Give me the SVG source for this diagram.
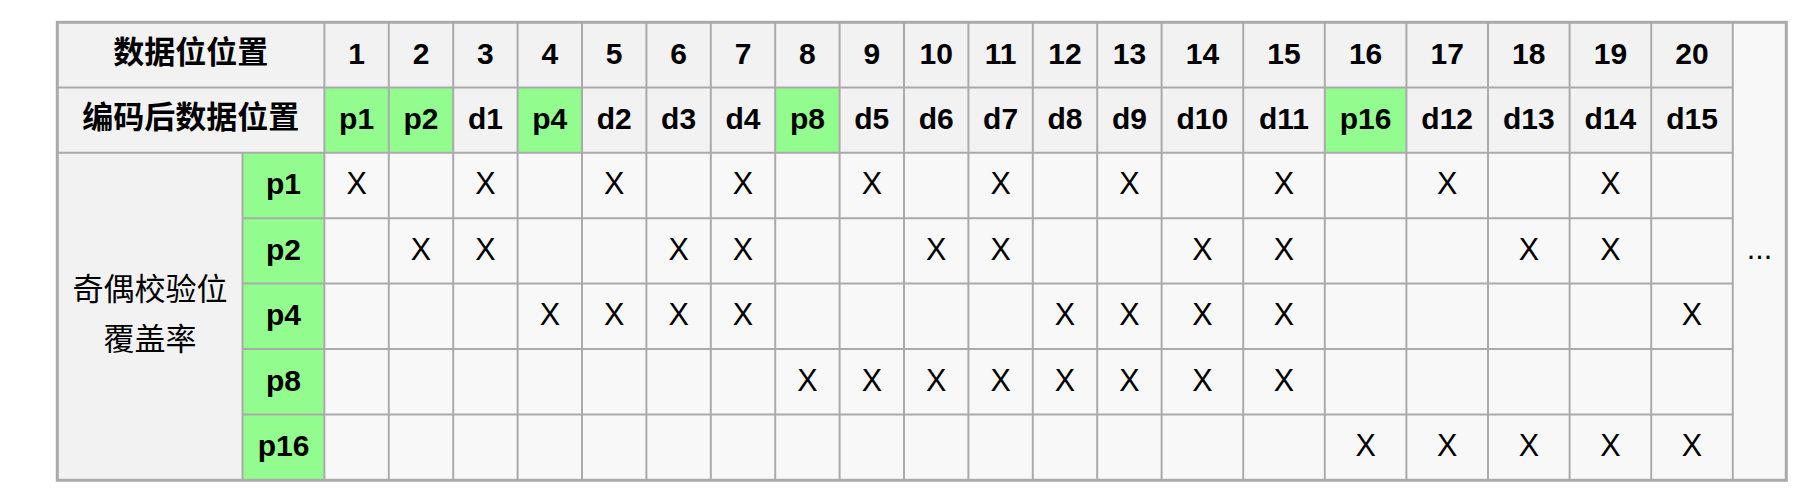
<svg xmlns="http://www.w3.org/2000/svg" width="1820" height="502" viewBox="0 0 1820 502">
<style>
.hd{fill:#f2f2f2}.dt{fill:#f8f8f8}.gr{fill:#92fd8e}
.grid line{stroke:#aaaaaa;stroke-width:2}
text{font-family:"Liberation Sans",Arial,"Noto Sans CJK SC",sans-serif;fill:#000;text-anchor:middle}
.b{font-size:30px;font-weight:bold}
.x{font-size:30.5px}
.c{font-family:"Noto Sans CJK SC","Liberation Sans",sans-serif;font-size:31px;font-weight:bold}
.cn{font-family:"Noto Sans CJK SC","Liberation Sans",sans-serif;font-size:31px}
</style>
<rect width="1820" height="502" fill="#ffffff"/>
<g id="backgrounds">
<rect class="hd" x="57" y="22" width="1675.8" height="130.8"/>
<rect class="hd" x="57" y="152.8" width="185.5" height="327"/>
<rect class="dt" x="324.4" y="152.8" width="1408.4" height="327"/>
<rect class="dt" x="1732.8" y="22" width="53.2" height="457.8"/>
<rect class="gr" x="242.5" y="152.8" width="81.9" height="327"/>
<rect class="gr" x="324.4" y="87.4" width="64.4" height="65.4"/>
<rect class="gr" x="388.8" y="87.4" width="64.4" height="65.4"/>
<rect class="gr" x="517.6" y="87.4" width="64.4" height="65.4"/>
<rect class="gr" x="775.2" y="87.4" width="64.4" height="65.4"/>
<rect class="gr" x="1324.8" y="87.4" width="81.6" height="65.4"/>
</g>
<g id="grid" class="grid">
<line x1="57" y1="87.4" x2="1732.8" y2="87.4"/>
<line x1="57" y1="152.8" x2="1732.8" y2="152.8"/>
<line x1="242.5" y1="218.2" x2="1732.8" y2="218.2"/>
<line x1="242.5" y1="283.6" x2="1732.8" y2="283.6"/>
<line x1="242.5" y1="349" x2="1732.8" y2="349"/>
<line x1="242.5" y1="414.4" x2="1732.8" y2="414.4"/>
<line x1="242.5" y1="152.8" x2="242.5" y2="479.8"/>
<line x1="324.4" y1="22" x2="324.4" y2="479.8"/>
<line x1="388.8" y1="22" x2="388.8" y2="479.8"/>
<line x1="453.2" y1="22" x2="453.2" y2="479.8"/>
<line x1="517.6" y1="22" x2="517.6" y2="479.8"/>
<line x1="582" y1="22" x2="582" y2="479.8"/>
<line x1="646.4" y1="22" x2="646.4" y2="479.8"/>
<line x1="710.8" y1="22" x2="710.8" y2="479.8"/>
<line x1="775.2" y1="22" x2="775.2" y2="479.8"/>
<line x1="839.6" y1="22" x2="839.6" y2="479.8"/>
<line x1="904" y1="22" x2="904" y2="479.8"/>
<line x1="968.4" y1="22" x2="968.4" y2="479.8"/>
<line x1="1032.8" y1="22" x2="1032.8" y2="479.8"/>
<line x1="1097.2" y1="22" x2="1097.2" y2="479.8"/>
<line x1="1161.6" y1="22" x2="1161.6" y2="479.8"/>
<line x1="1243.2" y1="22" x2="1243.2" y2="479.8"/>
<line x1="1324.8" y1="22" x2="1324.8" y2="479.8"/>
<line x1="1406.4" y1="22" x2="1406.4" y2="479.8"/>
<line x1="1488" y1="22" x2="1488" y2="479.8"/>
<line x1="1569.6" y1="22" x2="1569.6" y2="479.8"/>
<line x1="1651.2" y1="22" x2="1651.2" y2="479.8"/>
<line x1="1732.8" y1="22" x2="1732.8" y2="479.8"/>
</g>
<rect id="border" x="57.3" y="22.3" width="1729" height="458" fill="none" stroke="#aaaaaa" stroke-width="3"/>
<g id="row-position">
<text class="c" x="190.7" y="62.5">数据位位置</text>
<text class="b" x="356.6" y="63.5">1</text>
<text class="b" x="421" y="63.5">2</text>
<text class="b" x="485.4" y="63.5">3</text>
<text class="b" x="549.8" y="63.5">4</text>
<text class="b" x="614.2" y="63.5">5</text>
<text class="b" x="678.6" y="63.5">6</text>
<text class="b" x="743" y="63.5">7</text>
<text class="b" x="807.4" y="63.5">8</text>
<text class="b" x="871.8" y="63.5">9</text>
<text class="b" x="936.2" y="63.5">10</text>
<text class="b" x="1000.6" y="63.5">11</text>
<text class="b" x="1065" y="63.5">12</text>
<text class="b" x="1129.4" y="63.5">13</text>
<text class="b" x="1202.4" y="63.5">14</text>
<text class="b" x="1284" y="63.5">15</text>
<text class="b" x="1365.6" y="63.5">16</text>
<text class="b" x="1447.2" y="63.5">17</text>
<text class="b" x="1528.8" y="63.5">18</text>
<text class="b" x="1610.4" y="63.5">19</text>
<text class="b" x="1692" y="63.5">20</text>
</g>
<g id="row-encoded">
<text class="c" x="190.7" y="128">编码后数据位置</text>
<text class="b" x="356.6" y="129">p1</text>
<text class="b" x="421" y="129">p2</text>
<text class="b" x="485.4" y="129">d1</text>
<text class="b" x="549.8" y="129">p4</text>
<text class="b" x="614.2" y="129">d2</text>
<text class="b" x="678.6" y="129">d3</text>
<text class="b" x="743" y="129">d4</text>
<text class="b" x="807.4" y="129">p8</text>
<text class="b" x="871.8" y="129">d5</text>
<text class="b" x="936.2" y="129">d6</text>
<text class="b" x="1000.6" y="129">d7</text>
<text class="b" x="1065" y="129">d8</text>
<text class="b" x="1129.4" y="129">d9</text>
<text class="b" x="1202.4" y="129">d10</text>
<text class="b" x="1284" y="129">d11</text>
<text class="b" x="1365.6" y="129">p16</text>
<text class="b" x="1447.2" y="129">d12</text>
<text class="b" x="1528.8" y="129">d13</text>
<text class="b" x="1610.4" y="129">d14</text>
<text class="b" x="1692" y="129">d15</text>
</g>
<g id="coverage-label">
<text class="cn" x="150" y="300">奇偶校验位</text>
<text class="cn" x="150" y="350">覆盖率</text>
</g>
<g id="row-p1">
<text class="b" x="283.5" y="194.3">p1</text>
<text class="x" x="356.6" y="194.3">X</text>
<text class="x" x="485.4" y="194.3">X</text>
<text class="x" x="614.2" y="194.3">X</text>
<text class="x" x="743" y="194.3">X</text>
<text class="x" x="871.8" y="194.3">X</text>
<text class="x" x="1000.6" y="194.3">X</text>
<text class="x" x="1129.4" y="194.3">X</text>
<text class="x" x="1284" y="194.3">X</text>
<text class="x" x="1447.2" y="194.3">X</text>
<text class="x" x="1610.4" y="194.3">X</text>
</g>
<g id="row-p2">
<text class="b" x="283.5" y="259.7">p2</text>
<text class="x" x="421" y="259.7">X</text>
<text class="x" x="485.4" y="259.7">X</text>
<text class="x" x="678.6" y="259.7">X</text>
<text class="x" x="743" y="259.7">X</text>
<text class="x" x="936.2" y="259.7">X</text>
<text class="x" x="1000.6" y="259.7">X</text>
<text class="x" x="1202.4" y="259.7">X</text>
<text class="x" x="1284" y="259.7">X</text>
<text class="x" x="1528.8" y="259.7">X</text>
<text class="x" x="1610.4" y="259.7">X</text>
</g>
<g id="row-p4">
<text class="b" x="283.5" y="325.1">p4</text>
<text class="x" x="549.8" y="325.1">X</text>
<text class="x" x="614.2" y="325.1">X</text>
<text class="x" x="678.6" y="325.1">X</text>
<text class="x" x="743" y="325.1">X</text>
<text class="x" x="1065" y="325.1">X</text>
<text class="x" x="1129.4" y="325.1">X</text>
<text class="x" x="1202.4" y="325.1">X</text>
<text class="x" x="1284" y="325.1">X</text>
<text class="x" x="1692" y="325.1">X</text>
</g>
<g id="row-p8">
<text class="b" x="283.5" y="390.5">p8</text>
<text class="x" x="807.4" y="390.5">X</text>
<text class="x" x="871.8" y="390.5">X</text>
<text class="x" x="936.2" y="390.5">X</text>
<text class="x" x="1000.6" y="390.5">X</text>
<text class="x" x="1065" y="390.5">X</text>
<text class="x" x="1129.4" y="390.5">X</text>
<text class="x" x="1202.4" y="390.5">X</text>
<text class="x" x="1284" y="390.5">X</text>
</g>
<g id="row-p16">
<text class="b" x="283.5" y="455.9">p16</text>
<text class="x" x="1365.6" y="455.9">X</text>
<text class="x" x="1447.2" y="455.9">X</text>
<text class="x" x="1528.8" y="455.9">X</text>
<text class="x" x="1610.4" y="455.9">X</text>
<text class="x" x="1692" y="455.9">X</text>
</g>
<g id="ellipsis-cell">
<text class="x" x="1759.4" y="259">...</text>
</g>
</svg>
